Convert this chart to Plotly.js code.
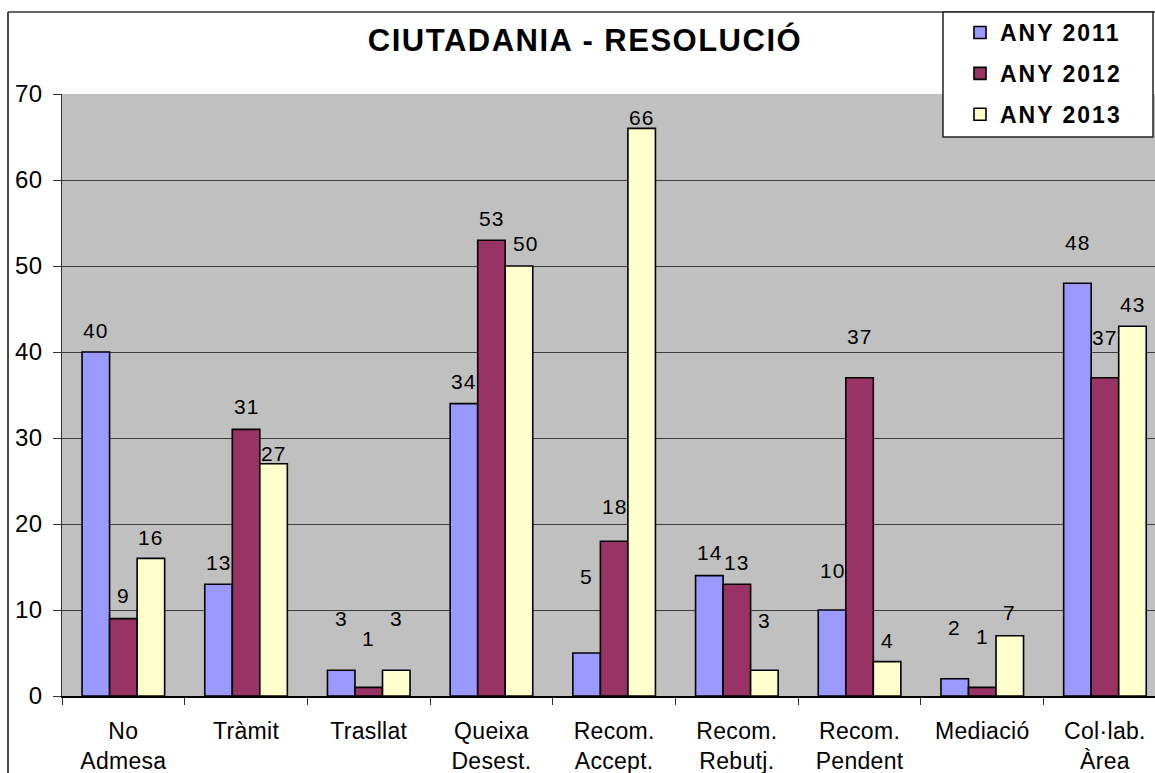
<!DOCTYPE html>
<html><head><meta charset="utf-8">
<script src="https://cdn.plot.ly/plotly-3.0.1.min.js"></script>
<style>
html,body{margin:0;padding:0;background:#fff;}
#chart{width:1155px;height:773px;}
.xtick text{letter-spacing:0.3px;}
.ytick text{letter-spacing:0.5px;}
.annotation-text{letter-spacing:1px;}
.gtitle{letter-spacing:1.5px;}
.legendtext{letter-spacing:2px;}
</style></head><body><div id="chart"></div>
<script>
// ---- data ----
const categories = ["No<br>Admesa","Tràmit","Trasllat","Queixa<br>Desest.","Recom.<br>Accept.","Recom.<br>Rebutj.","Recom.<br>Pendent","Mediació","Col·lab.<br>Àrea"];
const seriesNames = ["ANY 2011","ANY 2012","ANY 2013"];
const values2011 = [40,13,3,34,5,14,10,2,48];
const values2012 = [9,31,1,53,18,13,37,1,37];
const values2013 = [16,27,3,50,66,3,4,7,43];
const yTicks = [0,10,20,30,40,50,60,70];
const chartTitle = "CIUTADANIA - RESOLUCIÓ";

// ---- style (label placement, px above bar top / sideways nudge) ----
const lift2011 = [22,22,52,22,77,23,40,51,41];
const lift2012 = [23,23,49,22,35,22,41,51,40];
const lift2013 = [21,10,52,23,11,50,21,23,22];
const nudge2013 = [0,0,0,7,0,0,0,0,0];
const colors = ["#9999FF","#993366","#FFFFCC"];

const W=1155,H=773,L=62,T=94,B=77,R=0;
const plotW=W-L-R, plotH=H-T-B;
const catW=122.7, bargap=0.327;
const barW=catW*(1-bargap)/3;
const px2x = px => (px-L)/plotW;
const py2y = py => (H-B-py)/plotH;
const FONT="Liberation Sans, Arial, sans-serif";

const allVals=[values2011,values2012,values2013];
const lifts=[lift2011,lift2012,lift2013];
const nudges=[null,null,nudge2013];

const traces = allVals.map((v,s)=>({
  type:'bar', x:categories, y:v, name:seriesNames[s], legendgroup:'g'+s,
  marker:{color:colors[s], line:{color:'#000', width:1.6}},
  hoverinfo:'skip'
}));

const annotations=[];
allVals.forEach((v,s)=>{
  v.forEach((val,i)=>{
    annotations.push({
      x:i, y:val, xref:'x', yref:'y', text:String(val), showarrow:false,
      xanchor:'center', yanchor:'middle',
      xshift:(s-1)*barW + (nudges[s]?nudges[s][i]:0), yshift:lifts[s][i],
      font:{family:FONT, size:21, color:'#000'}
    });
  });
});

const shapes=[
  // chart area frame (left & top)
  {type:'line', xref:'paper', yref:'paper', x0:px2x(8), x1:px2x(1200), y0:py2y(12), y1:py2y(12), line:{color:'#333', width:1.5}, layer:'above'},
  {type:'line', xref:'paper', yref:'paper', x0:px2x(8), x1:px2x(8), y0:py2y(12), y1:py2y(800), line:{color:'#111', width:1.5}, layer:'above'},
  // legend box
  {type:'rect', xref:'paper', yref:'paper', x0:px2x(943), x1:px2x(1153), y0:py2y(137), y1:py2y(12), fillcolor:'#fff', line:{color:'#222', width:1.5}, layer:'above'}
];

const layout={
  width:W, height:H, margin:{l:L,r:R,t:T,b:B},
  paper_bgcolor:'#fff', plot_bgcolor:'#C0C0C0',
  barmode:'group', bargap:bargap, bargroupgap:0,
  title:{text:chartTitle, font:{family:FONT, size:31, weight:'bold', color:'#000'},
         xref:'paper', x:px2x(585), xanchor:'center', yref:'container', y:1-40/H, yanchor:'middle'},
  xaxis:{type:'category', range:[-0.5, -0.5+plotW/catW], tickson:'boundaries', ticks:'outside', ticklen:7,
         tickcolor:'#333', tickwidth:1, showline:true, linecolor:'#000', linewidth:1.5, showgrid:false,
         tickfont:{family:FONT, size:23, color:'#000'}, ticklabelstandoff:14, fixedrange:true},
  yaxis:{range:[0,70], tickvals:yTicks, ticks:'outside', ticklen:8, tickcolor:'#333', showline:true,
         linecolor:'#333', linewidth:1.5, showgrid:true, gridcolor:'#3c3c3c', gridwidth:1, zeroline:false,
         tickfont:{family:FONT, size:24, color:'#000'}, ticklabelstandoff:5, fixedrange:true},
  showlegend:true,
  legend:{x:px2x(960), y:py2y(11), xanchor:'left', yanchor:'top', bgcolor:'rgba(0,0,0,0)', borderwidth:0,
          font:{family:FONT, size:23, weight:'bold', color:'#000'}, tracegroupgap:8, itemclick:false, itemdoubleclick:false},
  annotations:annotations, shapes:shapes
};
Plotly.newPlot('chart', traces, layout, {displayModeBar:false, staticPlot:true});
</script></body></html>
